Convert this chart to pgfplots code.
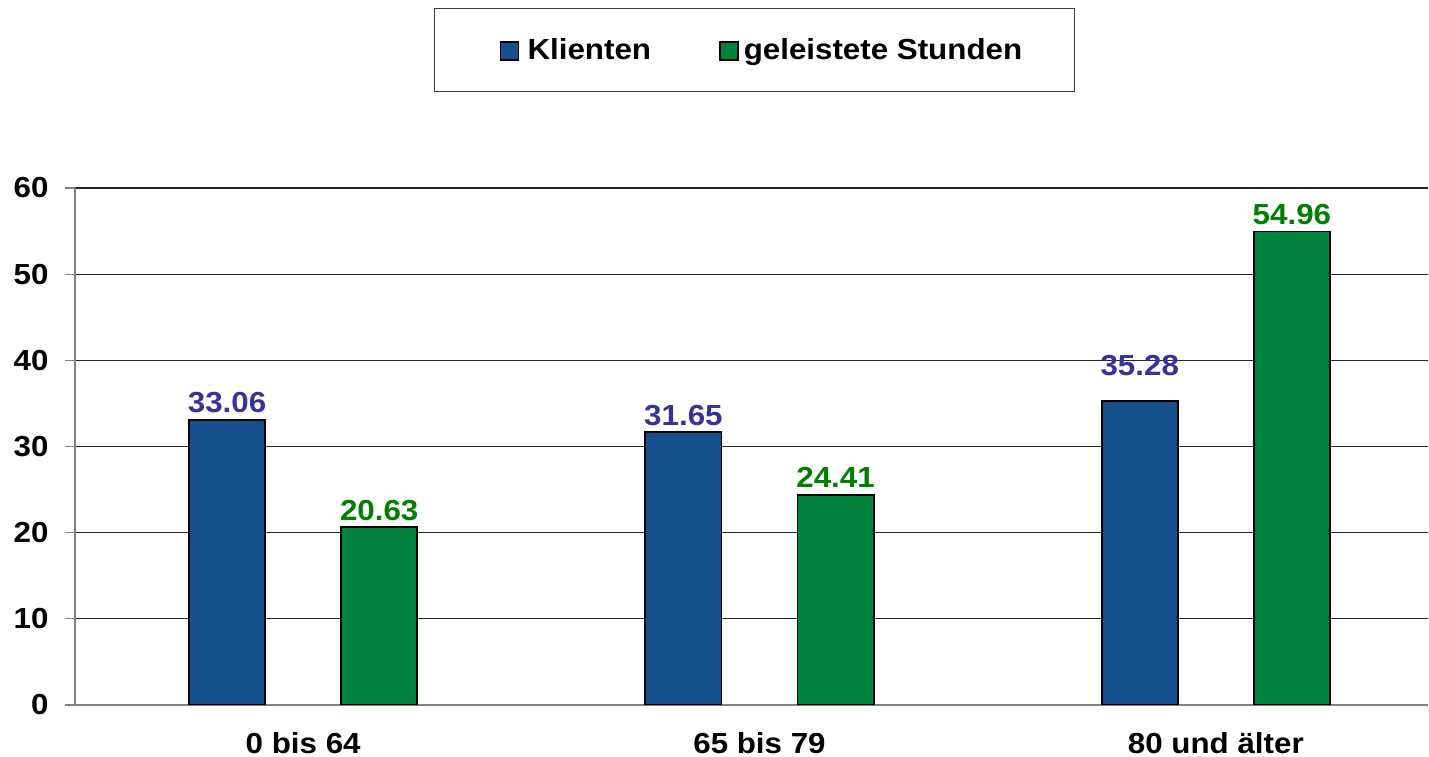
\documentclass[border=0pt]{standalone}
\usepackage{pgfplots}
\pgfplotsset{compat=1.18}
\usepackage{fontspec}
\setmainfont{Liberation Sans}[FakeStretch=1.08]
\definecolor{cblue}{RGB}{23,79,141}
\definecolor{cgreen}{RGB}{0,132,61}
\definecolor{lblue}{RGB}{51,51,153}
\definecolor{lgreen}{RGB}{0,128,0}
\newcommand{\bigfont}{\bfseries\fontsize{29}{34}\selectfont}
\pgfplotstableread{
x y off
0 33.06 0
1 31.65 0
2 35.28 18
}\klienten
\pgfplotstableread{
x y off
0 20.63 0
1 24.41 0
2 54.96 0
}\stunden
\begin{document}
\begin{tikzpicture}[font=\bigfont]
\useasboundingbox (-75pt,-52pt) rectangle (1354pt,705pt);
\begin{axis}[
  at={(0pt,0pt)}, anchor=south west,
  scale only axis, width=1353pt, height=517pt,
  xmin=-0.5, xmax=2.465, ymin=0, ymax=60,
  ytick={0,10,...,60},
  xtick={0,1,2},
  xticklabels={0 bis 64, 65 bis 79, 80 und älter},
  major x tick style={draw=none},
  extra x ticks={-0.5,0.5,1.5},
  extra x tick labels={},
  extra x tick style={major tick length=9pt, tick style={draw=gray, line width=1.2pt}, grid=none},
  tick align=outside,
  major tick length=10pt,
  y tick style={draw=gray, line width=1.2pt},
  axis x line*=bottom, axis y line*=left,
  axis line style={draw=gray, line width=1.6pt},
  ymajorgrids, major grid style={draw=black!85, line width=1.2pt},
  /pgf/number format/assume math mode=true,
  every tick label/.append style={font=\bigfont, text=black},
  yticklabel style={xshift=-13pt},
  xticklabel style={inner sep=0pt, yshift=-17pt},
  ybar, bar width=0.1667,
  nodes near coords={\pgfmathprintnumber[fixed,fixed zerofill,precision=2]{\pgfplotspointmeta}},
  every node near coord/.append style={font=\bigfont, anchor=south, inner sep=6pt},
  legend columns=2,
  legend style={at={(axis description cs:0.5022,1.2669)}, anchor=center,
    draw=black!75, line width=1.2pt, inner xsep=50pt, inner ysep=28.5pt,
    font=\bigfont,
    /tikz/every even column/.append style={column sep=66pt}},
]
\addplot[fill=cblue, draw=black, line width=1.8pt, bar shift=-0.1667,
  visualization depends on={\thisrow{off} \as \myoff},
  every node near coord/.append style={text=lblue, yshift=\myoff pt},
  legend image code/.code={\path (-15pt,0pt);
    \draw[fill=cblue,draw=black,line width=1.5pt] (0pt,-10pt) rectangle (18pt,8pt);
    \path (24pt,0pt);}]
  table[x=x, y=y, meta=y] {\klienten};
\addplot[fill=cgreen, draw=black, line width=1.8pt, bar shift=0.1667,
  every node near coord/.append style={text=lgreen},
  legend image code/.code={\draw[fill=cgreen,draw=black,line width=1.5pt] (0pt,-10pt) rectangle (18pt,8pt);
    \path (21pt,0pt);}]
  table[x=x, y=y, meta=y] {\stunden};
\legend{Klienten, geleistete Stunden}
\end{axis}
\end{tikzpicture}
\end{document}
